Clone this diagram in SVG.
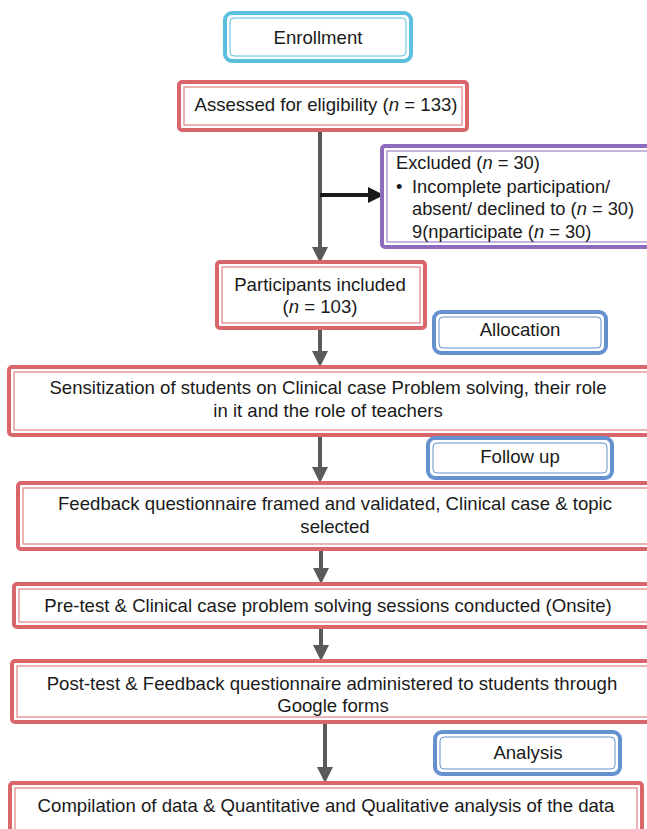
<svg xmlns="http://www.w3.org/2000/svg" width="647" height="829" viewBox="0 0 647 829">
<defs>
<style>
.t{font-family:"Liberation Sans",Arial,sans-serif;font-size:18.6px;fill:#1a1a1a;text-anchor:middle}
.tl{font-family:"Liberation Sans",Arial,sans-serif;font-size:18.3px;fill:#1a1a1a}
.ro{fill:#fff;stroke:#d9666a;stroke-width:4}
.ri{fill:none;stroke:#d9666a;stroke-width:1}
.bo{fill:#fff;stroke:#6591cf;stroke-width:4}
.bi{fill:none;stroke:#6591cf;stroke-width:1}
.co{fill:#fff;stroke:#5bc0de;stroke-width:4}
.ci{fill:none;stroke:#5bc0de;stroke-width:1}
.po{fill:#fff;stroke:#8e6bbd;stroke-width:4}
.pi{fill:none;stroke:#8e6bbd;stroke-width:1}
.ln{stroke:#5a5a5a;stroke-width:4;fill:none}
</style>
<marker id="ag" markerWidth="4" markerHeight="4" refX="3" refY="2" orient="auto" markerUnits="strokeWidth" viewBox="0 0 4 4">
<path d="M0,0 L4,2 L0,4 z" fill="#5a5a5a"/>
</marker>
<marker id="ab" markerWidth="4" markerHeight="4" refX="3" refY="2" orient="auto" markerUnits="strokeWidth" viewBox="0 0 4 4">
<path d="M0,0 L4,2 L0,4 z" fill="#1a1a1a"/>
</marker>
</defs>
<rect width="647" height="829" fill="#fff"/>

<g id="connectors">
<path class="ln" d="M320,130 V259" marker-end="url(#ag)"/>
<path d="M320,195 H380" stroke="#1a1a1a" stroke-width="4" fill="none" marker-end="url(#ab)"/>
<path class="ln" d="M320,328 V363" marker-end="url(#ag)"/>
<path class="ln" d="M320,435 V479" marker-end="url(#ag)"/>
<path class="ln" d="M321,549 V580" marker-end="url(#ag)"/>
<path class="ln" d="M321,627 V657" marker-end="url(#ag)"/>
<path class="ln" d="M325,722 V779" marker-end="url(#ag)"/>
</g>

<g id="enrollment">
<rect class="co" x="225" y="13" width="186" height="48" rx="7"/>
<rect class="ci" x="230" y="18" width="176" height="38" rx="4"/>
<text class="t" x="318" y="44">Enrollment</text>
</g>

<g id="assessed">
<rect class="ro" x="179" y="82" width="288" height="48" rx="3"/>
<rect class="ri" x="184" y="87" width="278" height="38"/>
<text class="t" x="326" y="111">Assessed for eligibility (<tspan font-style="italic">n</tspan> = 133)</text>
</g>

<g id="excluded">
<rect class="po" x="382" y="146" width="270" height="101" rx="3"/>
<rect class="pi" x="387" y="151" width="270" height="91"/>
<text class="tl" x="396" y="169">Excluded (<tspan font-style="italic">n</tspan> = 30)</text>
<text class="tl" x="396" y="193">•</text>
<text class="tl" x="412" y="193">Incomplete participation/</text>
<text class="tl" x="412" y="215">absent/ declined to (<tspan font-style="italic">n</tspan> = 30)</text>
<text class="tl" x="412" y="238">9(nparticipate (<tspan font-style="italic">n</tspan> = 30)</text>
</g>

<g id="participants">
<rect class="ro" x="217" y="262" width="208" height="66" rx="3"/>
<rect class="ri" x="222" y="267" width="198" height="56"/>
<text class="t" x="320" y="291">Participants included</text>
<text class="t" x="320" y="313">(<tspan font-style="italic">n</tspan> = 103)</text>
</g>

<g id="allocation">
<rect class="bo" x="434" y="312" width="172" height="41" rx="7"/>
<rect class="bi" x="439" y="317" width="162" height="31" rx="4"/>
<text class="t" x="520" y="336">Allocation</text>
</g>

<g id="sensitization">
<rect class="ro" x="9" y="367" width="644" height="68" rx="3"/>
<rect class="ri" x="14" y="372" width="634" height="58"/>
<text class="t" x="328" y="394">Sensitization of students on Clinical case Problem solving, their role</text>
<text class="t" x="328" y="417">in it and the role of teachers</text>
</g>

<g id="followup">
<rect class="bo" x="428" y="438" width="184" height="40" rx="7"/>
<rect class="bi" x="433" y="443" width="174" height="30" rx="4"/>
<text class="t" x="520" y="463">Follow up</text>
</g>

<g id="feedback">
<rect class="ro" x="18" y="483" width="636" height="66" rx="3"/>
<rect class="ri" x="23" y="488" width="626" height="56"/>
<text class="t" x="335" y="510">Feedback questionnaire framed and validated, Clinical case &amp; topic</text>
<text class="t" x="335" y="533">selected</text>
</g>

<g id="pretest">
<rect class="ro" x="14" y="584" width="640" height="43" rx="3"/>
<rect class="ri" x="19" y="589" width="630" height="33"/>
<text class="t" x="328" y="612">Pre-test &amp; Clinical case problem solving sessions conducted (Onsite)</text>
</g>

<g id="posttest">
<rect class="ro" x="12" y="661" width="642" height="61" rx="3"/>
<rect class="ri" x="17" y="666" width="632" height="51"/>
<text class="t" x="332" y="690">Post-test &amp; Feedback questionnaire administered to students through</text>
<text class="t" x="333" y="712">Google forms</text>
</g>

<g id="analysis">
<rect class="bo" x="435" y="732" width="185" height="42" rx="7"/>
<rect class="bi" x="440" y="737" width="175" height="32" rx="4"/>
<text class="t" x="528" y="759">Analysis</text>
</g>

<g id="compilation">
<rect class="ro" x="10" y="783" width="632" height="52" rx="3"/>
<rect class="ri" x="15" y="788" width="622" height="45"/>
<text class="t" x="326" y="812">Compilation of data &amp; Quantitative and Qualitative analysis of the data</text>
</g>
</svg>
